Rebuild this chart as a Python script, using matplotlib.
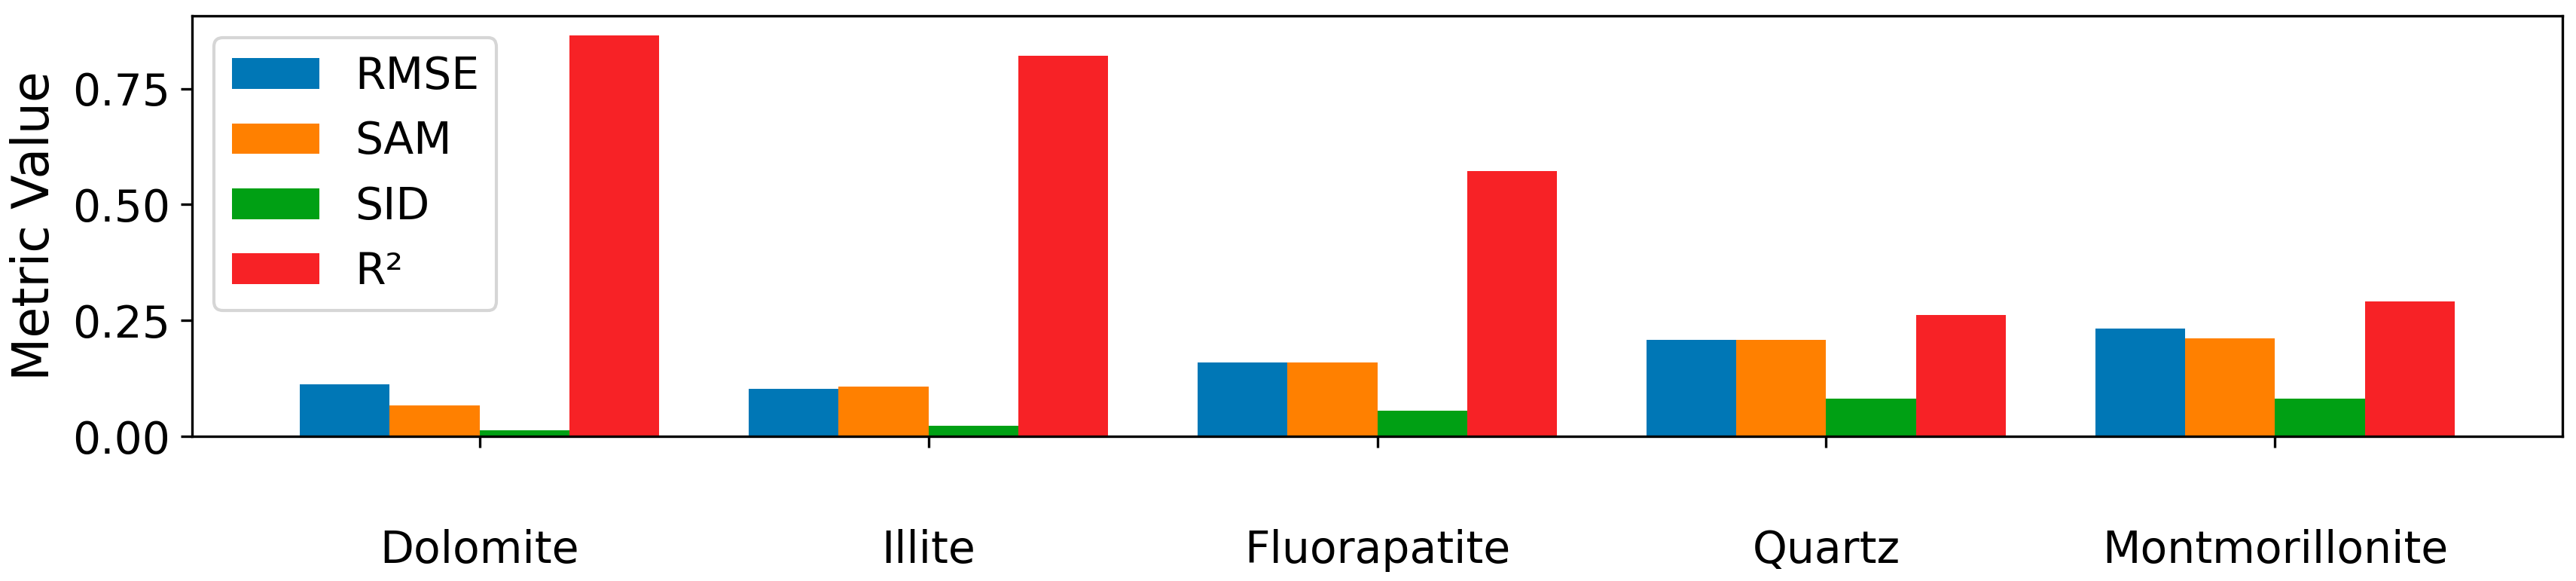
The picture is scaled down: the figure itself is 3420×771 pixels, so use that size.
import matplotlib
matplotlib.use("Agg")
import matplotlib.pyplot as plt
import numpy as np

minerals = ["Dolomite", "Illite", "Fluorapatite", "Quartz", "Montmorillonite"]
metrics = ["RMSE", "SAM", "SID", "R²"]
rmse = [0.112, 0.102, 0.160, 0.208, 0.233]
sam = [0.067, 0.108, 0.160, 0.208, 0.211]
sid = [0.013, 0.022, 0.055, 0.081, 0.081]
r2 = [0.864, 0.820, 0.572, 0.262, 0.291]
colors = ["#0077b6", "#ff8000", "#00a014", "#f72226"]

plt.rcParams['font.family'] = ['DejaVu Sans']

fig = plt.figure(figsize=(11.4, 2.57), dpi=300)
ax = fig.add_axes([0.0746, 0.249, 0.9201, 0.724])

x = np.arange(len(minerals))
width = 0.2
for i, (vals, name) in enumerate(zip([rmse, sam, sid, r2], metrics)):
    ax.bar(x + (i - 1.5) * width, vals, width, label=name, color=colors[i])

ax.set_xticks(x)
ax.set_xticklabels(minerals, fontsize=14)
ax.tick_params(axis='x', pad=26)
ax.tick_params(axis='y', labelsize=14)
ax.set_yticks([0, 0.25, 0.5, 0.75])
ax.set_ylabel("Metric Value", fontsize=16)
ax.yaxis.set_label_coords(-0.056, 0.5)
ax.legend(loc="upper left", fontsize=14)

fig.savefig("out.png", dpi=300)
